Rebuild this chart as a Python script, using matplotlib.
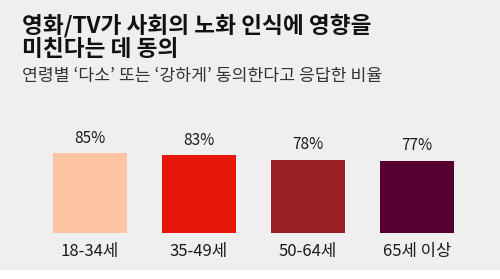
import matplotlib
matplotlib.use("Agg")
import matplotlib.pyplot as plt
from matplotlib.patches import Rectangle

plt.rcParams['font.family'] = ['Noto Sans CJK KR', 'DejaVu Sans']

categories = ['18-34세', '35-49세', '50-64세', '65세 이상']
values = [85, 83, 78, 77]
value_labels = ['85%', '83%', '78%', '77%']
colors = ['#fdc3a2', '#e8150b', '#9a2024', '#560032']

W, H = 500, 279
fig = plt.figure(figsize=(W / 100, H / 100), dpi=100)
fig.patch.set_facecolor('#efefef')

# bottom white strip
fig.patches.append(Rectangle((0, 0), 1, 9 / H, transform=fig.transFigure,
                             facecolor='white', edgecolor='none', zorder=0))

ax_bottom = 1 - 232.7 / H
ax_height = 93.4 / H
ax_left = 35.5 / W
ax_width = 436 / W
ax = fig.add_axes([ax_left, ax_bottom, ax_width, ax_height])
ax.set_facecolor('none')
x = list(range(len(categories)))
bars = ax.bar(x, values, width=0.68, color=colors, edgecolor='none')
ax.set_xlim(-0.5, 3.5)
ax.set_ylim(0, 100)
ax.axis('off')

for xi, v, lab in zip(x, values, value_labels):
    ax.annotate(lab, (xi, v), xytext=(0, 15), textcoords='offset pixels',
                ha='center', va='center', fontsize=11, color='#1a1a1a')
    ax.annotate(categories[xi], (xi, 0), xytext=(0, -19), textcoords='offset pixels',
                ha='center', va='center', fontsize=12, color='#1a1a1a')

fig.text(22 / W, 1 - 25.5 / H, '영화/TV가 사회의 노화 인식에 영향을', fontsize=16.3,
         fontweight='bold', color='#111111', ha='left', va='center')
fig.text(22 / W, 1 - 50 / H, '미친다는 데 동의', fontsize=16.3,
         fontweight='bold', color='#111111', ha='left', va='center')
fig.text(22 / W, 1 - 76.5 / H, '연령별 ‘다소’ 또는 ‘강하게’ 동의한다고 응답한 비율',
         fontsize=12.4, color='#333333', ha='left', va='center')

fig.savefig('out.png', dpi=100, facecolor=fig.get_facecolor())
